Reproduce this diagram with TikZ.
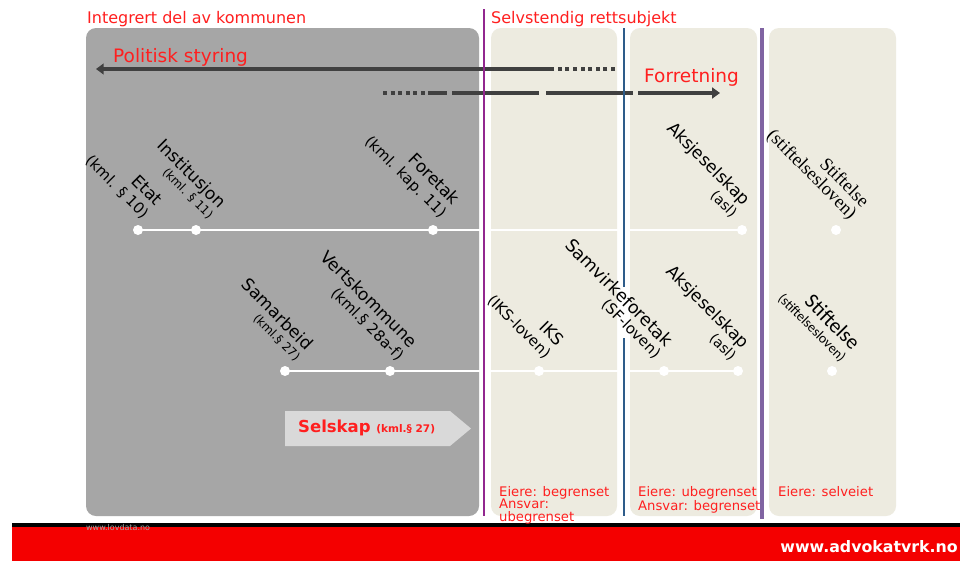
\documentclass[tikz,border=0pt]{standalone}
\usepackage{fontspec}
\setmainfont{DejaVu Sans}
\newfontfamily\serifA{Liberation Serif}
\newfontfamily\carl{Carlito}
\usetikzlibrary{arrows.meta}
\definecolor{grayb}{HTML}{A6A6A6}
\definecolor{beige}{HTML}{EDEBE0}
\definecolor{purp}{HTML}{92278F}
\definecolor{bluel}{HTML}{2E5C8A}
\definecolor{lav}{HTML}{8064A2}
\definecolor{arrc}{HTML}{404040}
\definecolor{redt}{HTML}{FF1F1F}
\definecolor{barred}{HTML}{F40000}
\definecolor{selfill}{HTML}{D9D9D9}
\newcommand\fsz[2]{\fontsize{#1}{#2}\selectfont}
\begin{document}
\begin{tikzpicture}[x=1pt,y=-1pt,
  lab/.style={rotate=-45, anchor=south east, align=right, inner sep=0pt, text=black},
  dotn/.style={circle, fill=white, inner sep=0pt, minimum size=10pt},
  hline/.style={white, line width=2pt},
  boxg/.style={fill=grayb, rounded corners=10pt},
  boxb/.style={fill=beige, rounded corners=10pt},
  arrline/.style={arrc, line width=4pt},
  dotted4/.style={arrc, line width=4pt, dash pattern=on 4pt off 3.6pt},
  redlab/.style={text=redt, inner sep=0pt},
  bottomtxt/.style={text=redt, inner sep=0pt, align=left, font=\fsz{13.2}{12.5}, anchor=north west}]
\useasboundingbox (0,0) rectangle (960,562);
\fill[white] (0,0) rectangle (960,562);
% boxes
\path[boxg] (86,28) rectangle (479,516);
\path[boxb] (491,28) rectangle (617,516);
\path[boxb] (630,28) rectangle (757,516);
\path[boxb] (769,28) rectangle (896,516);
% footer
\fill[black] (12,522.5) rectangle (960,527);
\fill[barred] (12,527) rectangle (960,561);
\node[text=gray!70, inner sep=0pt, anchor=west, font=\fsz{8}{8}] (lovdata) at (86,528) {www.lovdata.no};
\node[text=white, inner sep=0pt, anchor=base east, font=\bfseries\fsz{15.8}{16}] (advokat) at (958,552) {www.advokatvrk.no};
% coordinates of dots
\coordinate (c11) at (138,230);
\coordinate (c12) at (196,230);
\coordinate (c13) at (433,230);
\coordinate (c14) at (742,230);
\coordinate (c15) at (836,230);
\coordinate (c21) at (285,371);
\coordinate (c22) at (390,371);
\coordinate (c23) at (539,371);
\coordinate (c24) at (664,371);
\coordinate (c25) at (738,371);
\coordinate (c26) at (832,371);
\draw[hline] (c11) -- (c14);
\draw[hline] (c21) -- (c25);
\foreach \c in {c11,c12,c13,c14,c15,c21,c22,c23,c24,c25,c26}
  \node[dotn] (d\c) at (\c) {};
% arrows
\coordinate (ps1) at (615,69);
\coordinate (ps2) at (551,69);
\coordinate (ps3) at (96,69);
\draw[dotted4] (ps1) -- (ps2);
\draw[arrline, -{Triangle[length=7.5pt,width=10.5pt]}] (ps2) -- (ps3);
\coordinate (f0) at (383,93);
\coordinate (f1) at (426,93);
\coordinate (f2) at (428,93);
\coordinate (f3) at (447,93);
\coordinate (f4) at (452,93);
\coordinate (f5) at (539,93);
\coordinate (f6) at (546,93);
\coordinate (f7) at (633,93);
\coordinate (f8) at (638,93);
\coordinate (f9) at (720,93);
\draw[dotted4] (f0) -- (f1);
\draw[arrline] (f2) -- (f3);
\draw[arrline] (f4) -- (f5);
\draw[arrline] (f6) -- (f7);
\draw[arrline, -{Triangle[length=8pt,width=11pt]}] (f8) -- (f9);
% vertical lines
\coordinate (pt) at (484,9);
\coordinate (pb) at (484,516);
\coordinate (bt) at (624,28);
\coordinate (bb) at (624,516);
\coordinate (lt) at (761.5,28);
\coordinate (lb) at (761.5,519);
\draw[purp, line width=2.7pt] (pt) -- (pb);
\draw[bluel, line width=2.3pt] (bt) -- (bb);
\draw[lav, line width=4pt] (lt) -- (lb);
\fill[white] (619,287) rectangle (629.5,338);
% headings
\node[redlab, anchor=base west, font=\fsz{16}{18}] (integ) at (87,23.5) {Integrert del av kommunen};
\node[redlab, anchor=base west, font=\fsz{16}{18}] (selv) at (491,23.5) {Selvstendig rettsubjekt};
\node[redlab, anchor=base west, font=\fsz{18.5}{20}] (polit) at (113,62) {Politisk styring};
\node[redlab, anchor=base west, font=\fsz{18.5}{20}] (forr) at (644,82) {Forretning};
% selskap arrow
\fill[selfill] (285,411) -- (450,411) -- (471,428.5) -- (450,446) -- (285,446) -- cycle;
\node[redlab, anchor=base west, font=\bfseries\fsz{16.5}{18}] (selskap) at (298,432) {Selskap {\fsz{10.5}{12}(kml.§ 27)}};
% rotated labels row 1
\node[lab, font=\fsz{17}{18}] (etat) at (141,221) {Etat\\{\fsz{15}{18}(kml. § 10)}};
\node[lab, font=\fsz{17}{15}] (inst) at (207,221) {Institusjon\\{\fsz{12}{15}(kml. § 11)}};
\node[lab, font=\fsz{17}{18}] (foretak) at (438,221) {Foretak\\{\fsz{15}{18}(kml. kap. 11)}};
\node[lab, font=\fsz{17}{17}] (as1) at (730,220) {Aksjeselskap\\{\fsz{14}{17}(asl)}};
\node[lab, font=\serifA\fsz{18.5}{17}] (st1) at (847,223) {Stiftelse\\(stiftelsesloven)};
% rotated labels row 2
\node[lab, font=\fsz{17}{15}] (samarb) at (294,363) {Samarbeid\\{\fsz{12}{15}(kml.§ 27)}};
\node[lab, font=\fsz{17}{18}] (verts) at (396,363) {Vertskommune\\{\fsz{15}{18}(kml.§ 28a-f)}};
\node[lab, font=\fsz{16.5}{18}] (iks) at (543,361) {IKS\\{\fsz{15}{18}(IKS-loven)}};
\node[lab, font=\fsz{17.5}{16}] (sf) at (653,361) {Samvirkeforetak\\{\fsz{15}{16}(SF-loven)}};
\node[lab, font=\fsz{17}{17}] (as2) at (729,363) {Aksjeselskap\\{\fsz{14}{17}(asl)}};
\node[lab, font=\carl\fsz{21}{16}] (st2) at (839,364) {Stiftelse\\{\fsz{14}{16}(stiftelsesloven)}};
% bottom texts
\node[bottomtxt] (eb1) at (499,486) {Eiere: begrenset\\Ansvar:\\ubegrenset};
\node[bottomtxt] (eb2) at (638,486) {Eiere: ubegrenset\\Ansvar: begrenset};
\node[bottomtxt] (eb3) at (778,486) {Eiere: selveiet};
\end{tikzpicture}
\end{document}
